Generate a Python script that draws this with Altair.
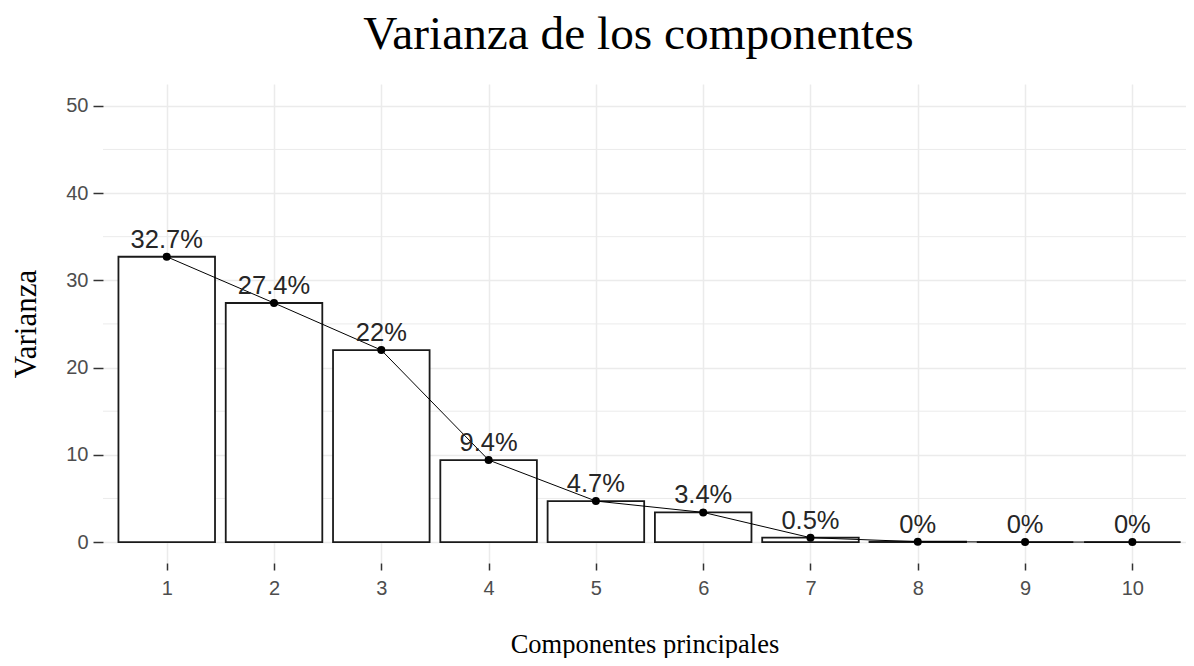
import altair as alt
import pandas as pd

componentes = [1, 2, 3, 4, 5, 6, 7, 8, 9, 10]
varianza = [32.7, 27.4, 22.0, 9.4, 4.7, 3.4, 0.5, 0.04, 0.0, 0.0]
etiquetas = ["32.7%", "27.4%", "22%", "9.4%", "4.7%", "3.4%", "0.5%", "0%", "0%", "0%"]
y_ticks = [0, 10, 20, 30, 40, 50]
y_minor = [5, 15, 25, 35, 45]

df = pd.DataFrame({"comp": componentes, "var": varianza, "lab": etiquetas})
minor_df = pd.DataFrame({"v": y_minor})

xscale = alt.Scale(domain=[0.406, 10.5], nice=False, zero=False)
yscale = alt.Scale(domain=[-2.4, 52.5], nice=False, zero=False)

grid_col = "#ebebeb"

y_axis = alt.Axis(
    values=y_ticks,
    title="Varianza",
    titleFont="Liberation Serif",
    titleFontSize=31,
    titleFontWeight="normal",
    titleColor="black",
    titlePadding=23,
    labelFont="Liberation Sans",
    labelFontSize=20,
    labelColor="#4d4d4d",
    labelPadding=5,
    tickSize=10,
    tickWidth=1.5,
    tickColor="#333333",
    domain=False,
    grid=True,
    gridColor=grid_col,
    gridWidth=1.5,
)

x_axis = alt.Axis(
    values=componentes,
    format="d",
    title="Componentes principales",
    titleFont="Liberation Serif",
    titleFontSize=26.5,
    titleFontWeight="normal",
    titleColor="black",
    titlePadding=33,
    labelFont="Liberation Sans",
    labelFontSize=20,
    labelColor="#4d4d4d",
    labelPadding=8,
    tickSize=7,
    tickWidth=1.5,
    tickColor="#333333",
    domain=False,
    grid=True,
    gridColor=grid_col,
    gridWidth=1.5,
)

minor = alt.Chart(minor_df).mark_rule(color=grid_col, strokeWidth=1).encode(
    y=alt.Y("v:Q", scale=yscale, axis=y_axis)
)

bars = alt.Chart(df).transform_calculate(
    x0="datum.comp - 0.45", x1="datum.comp + 0.45"
).mark_rect(fill="white", stroke="#1a1a1a", strokeWidth=1.8).encode(
    x=alt.X("x0:Q", scale=xscale, axis=x_axis),
    x2="x1:Q",
    y=alt.Y("var:Q", scale=yscale, axis=y_axis),
    y2=alt.datum(0),
)

line = alt.Chart(df).mark_line(color="black", strokeWidth=1).encode(
    x=alt.X("comp:Q", scale=xscale, axis=x_axis),
    y=alt.Y("var:Q", scale=yscale, axis=y_axis),
)

points = alt.Chart(df).mark_point(filled=True, color="black", size=64, opacity=1).encode(
    x=alt.X("comp:Q", scale=xscale, axis=x_axis),
    y=alt.Y("var:Q", scale=yscale, axis=y_axis),
)

text = alt.Chart(df).mark_text(
    font="Liberation Sans", fontSize=25.5, color="#262626", baseline="alphabetic", dy=-9
).encode(
    x=alt.X("comp:Q", scale=xscale, axis=x_axis),
    y=alt.Y("var:Q", scale=yscale, axis=y_axis),
    text="lab:N",
)

chart = alt.layer(minor, bars, line, points, text).properties(
    width=1083,
    height=479,
    autosize=alt.AutoSizeParams(type="none"),
    padding={"left": 95, "top": 76, "right": 0, "bottom": 95},
    title=alt.TitleParams(
        "Varianza de los componentes",
        font="Liberation Serif",
        fontSize=47.3,
        fontWeight="normal",
        color="black",
        anchor="middle",
        frame="group",
        offset=25,
        dx=-6,
    ),
).configure_view(stroke=None)

chart.save("out.html", embed_options={"renderer": "svg", "actions": False})
